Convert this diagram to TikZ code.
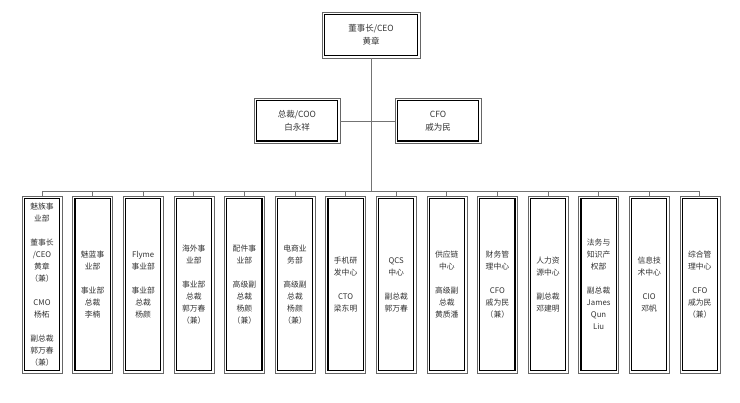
\documentclass[tikz,border=0pt]{standalone}
\usepackage{fontspec}
\setmainfont{Noto Sans CJK SC}
\begin{document}
\begin{tikzpicture}[x=1pt,y=-1pt]
\tikzset{
  conn/.style={draw=black!55, line width=0.7pt},
  frame/.style={draw=black!60, line width=0.5pt, fill=white, inner sep=0pt, align=center, text=black!80,
    path picture={\draw[black, line width=1.2pt]
      ([shift={(2.4pt,-2.4pt)}]path picture bounding box.north west) rectangle
      ([shift={(-2.4pt,2.4pt)}]path picture bounding box.south east);}},
  topbox/.style={frame, minimum width=98pt, minimum height=46pt, font=\fontsize{8.5}{12.5}\selectfont},
  midbox/.style={frame, minimum width=86pt, minimum height=45pt, font=\fontsize{8.5}{12.5}\selectfont},
  unitbox/.style={frame, minimum width=40pt, minimum height=177pt, font=\fontsize{7.8}{12}\selectfont},
}
\fill[white] (0,0) rectangle (740,403);
\useasboundingbox (0,0) rectangle (740,403);

\node[topbox] (ceo) at (371,35) {董事长/CEO\\黄章};
\node[midbox] (coo) at (297,121) {总裁/COO\\白永祥};
\node[midbox] (cfo) at (438,121) {CFO\\戚为民};

\node[unitbox] (b1)  at (42,284.5)    {魅族事\\业部\\[12pt]董事长\\/CEO\\黄章\\（兼）\\[12pt]CMO\\杨柘\\[12pt]副总裁\\郭万春\\（兼）};
\node[unitbox] (b2)  at (92.6,284.5)  {魅蓝事\\业部\\[12pt]事业部\\总裁\\李楠};
\node[unitbox] (b3)  at (143.2,284.5) {Flyme\\事业部\\[12pt]事业部\\总裁\\杨颜};
\node[unitbox] (b4)  at (193.8,284.5) {海外事\\业部\\[12pt]事业部\\总裁\\郭万春\\（兼）};
\node[unitbox] (b5)  at (244.4,284.5) {配件事\\业部\\[12pt]高级副\\总裁\\杨颜\\（兼）};
\node[unitbox] (b6)  at (295,284.5)   {电商业\\务部\\[12pt]高级副\\总裁\\杨颜\\（兼）};
\node[unitbox] (b7)  at (345.6,284.5) {手机研\\发中心\\[12pt]CTO\\梁东明};
\node[unitbox] (b8)  at (396.2,284.5) {QCS\\中心\\[12pt]副总裁\\郭万春};
\node[unitbox] (b9)  at (446.8,284.5) {供应链\\中心\\[12pt]高级副\\总裁\\黄质潘};
\node[unitbox] (b10) at (497.4,284.5) {财务管\\理中心\\[12pt]CFO\\戚为民\\（兼）};
\node[unitbox] (b11) at (548,284.5)   {人力资\\源中心\\[12pt]副总裁\\邓建明};
\node[unitbox] (b12) at (598.6,284.5) {法务与\\知识产\\权部\\[12pt]副总裁\\James\\Qun\\Liu};
\node[unitbox] (b13) at (649.2,284.5) {信息技\\术中心\\[12pt]CIO\\邓帆};
\node[unitbox] (b14) at (699.8,284.5) {综合管\\理中心\\[12pt]CFO\\戚为民\\（兼）};

\coordinate (bus) at (371,191);
\draw[conn] (ceo.south) -- (bus);
\draw[conn] (coo.east) -- (cfo.west);
\draw[conn] (b1.north |- bus) -- (b14.north |- bus);
\foreach \b in {b1,b2,b3,b4,b5,b6,b7,b8,b9,b10,b11,b12,b13,b14}
  \draw[conn] (\b.north |- bus) -- (\b.north);
\end{tikzpicture}
\end{document}
